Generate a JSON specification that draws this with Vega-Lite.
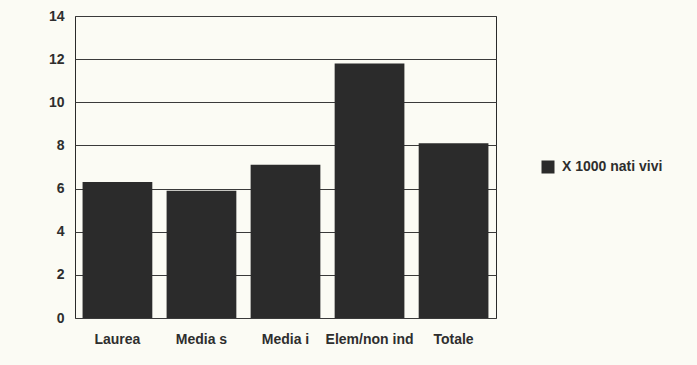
{
  "$schema": "https://vega.github.io/schema/vega-lite/v6.json",
  "width": 421,
  "height": 302,
  "autosize": "none",
  "padding": {"left": 75, "top": 16, "right": 201, "bottom": 47},
  "background": "#fbfbf4",
  "data": {
    "values": [
      {"livello": "Laurea", "valore": 6.3, "serie": "X 1000 nati vivi"},
      {"livello": "Media s", "valore": 5.9, "serie": "X 1000 nati vivi"},
      {"livello": "Media i", "valore": 7.1, "serie": "X 1000 nati vivi"},
      {"livello": "Elem/non ind", "valore": 11.8, "serie": "X 1000 nati vivi"},
      {"livello": "Totale", "valore": 8.1, "serie": "X 1000 nati vivi"}
    ]
  },
  "mark": {"type": "bar", "opacity": 1},
  "encoding": {
    "x": {
      "field": "livello",
      "type": "nominal",
      "sort": null,
      "title": null,
      "scale": {"paddingInner": 0.17, "paddingOuter": 0.09},
      "axis": {
        "labelAngle": 0,
        "ticks": false,
        "domain": false,
        "labelPadding": 14,
        "labelFont": "Liberation Sans",
        "labelFontWeight": "bold",
        "labelFontSize": 14,
        "labelColor": "#2e2e2e"
      }
    },
    "y": {
      "field": "valore",
      "type": "quantitative",
      "title": null,
      "scale": {"domain": [0, 14], "nice": false},
      "axis": {
        "values": [0, 2, 4, 6, 8, 10, 12, 14],
        "ticks": false,
        "domain": false,
        "labelPadding": 11,
        "labelFont": "Liberation Sans",
        "labelFontWeight": "bold",
        "labelFontSize": 14,
        "labelColor": "#2e2e2e",
        "grid": true,
        "gridColor": "#3a3a3a",
        "gridOpacity": 1,
        "gridWidth": 1
      }
    },
    "color": {
      "field": "serie",
      "type": "nominal",
      "scale": {"range": ["#2b2b2b"]},
      "legend": {
        "title": null,
        "orient": "none",
        "legendX": 466,
        "legendY": 144,
        "symbolType": "square",
        "symbolSize": 169,
        "symbolStrokeWidth": 0,
        "symbolOpacity": 1,
        "labelFont": "Liberation Sans",
        "labelFontWeight": "bold",
        "labelFontSize": 14,
        "labelColor": "#2e2e2e",
        "labelOffset": 7
      }
    }
  },
  "config": {
    "view": {"stroke": "#2a2a2a", "strokeWidth": 1}
  }
}
